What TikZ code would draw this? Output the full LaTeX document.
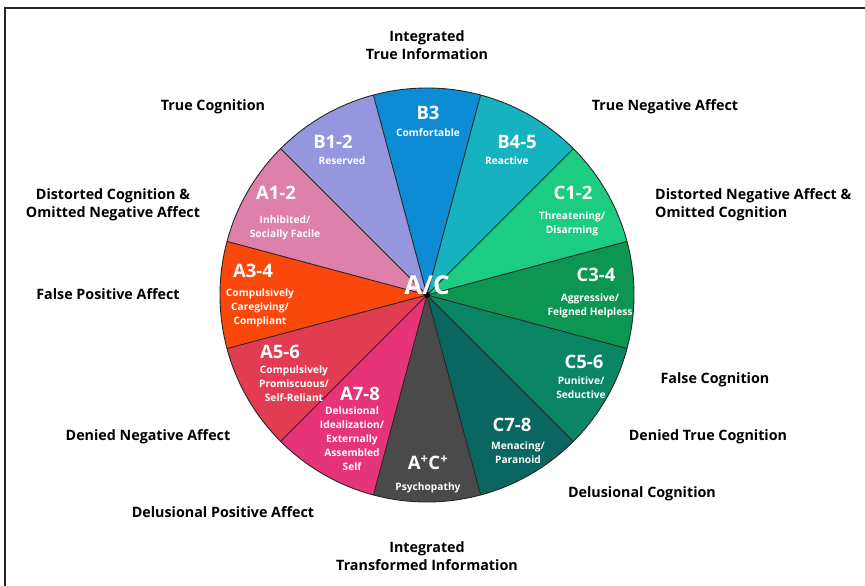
\documentclass[tikz,border=0pt]{standalone}
\usepackage{fontspec}
\setmainfont{Open Sans}
\definecolor{cB3}{RGB}{12,140,212}
\definecolor{cB45}{RGB}{22,178,192}
\definecolor{cC12}{RGB}{28,204,128}
\definecolor{cC34}{RGB}{12,150,82}
\definecolor{cC56}{RGB}{10,134,100}
\definecolor{cC78}{RGB}{10,102,96}
\definecolor{cAC}{RGB}{74,74,74}
\definecolor{cA78}{RGB}{230,52,120}
\definecolor{cA56}{RGB}{226,60,82}
\definecolor{cA34}{RGB}{250,72,12}
\definecolor{cA12}{RGB}{222,128,170}
\definecolor{cB12}{RGB}{150,150,222}
\tikzset{
  outer/.style={font=\fontsize{14.3}{18}\selectfont\bfseries, text=black, align=center, inner sep=0pt},
  segtitle/.style={font=\fontsize{18.5}{20}\selectfont\bfseries, text=white, inner sep=0pt},
  segsub/.style={font=\fontsize{10.2}{14}\selectfont\bfseries, text=white, align=center, inner sep=0pt},
  border/.style={draw=black!85, line width=0.9pt}
}
\begin{document}
\begin{tikzpicture}[x=1pt,y=1pt]
\useasboundingbox (0,0) rectangle (865,586);
\fill[white] (0,0) rectangle (865,586);
% frame
\draw[black!85, line width=1.4pt] (5,0) -- (5,578) -- (865,578);
% wheel
\coordinate (ctr) at (427,291);
\begin{scope}[shift={(ctr)}]
\foreach \a/\c in {75/cB3,45/cB45,15/cC12,-15/cC34,-45/cC56,-75/cC78,-105/cAC,-135/cA78,-165/cA56,165/cA34,135/cA12,105/cB12}{
  \fill[\c] (0,0) -- (\a:207) arc[start angle=\a, end angle=\a+30, radius=207] -- cycle;
}
\foreach \a in {15,45,...,345}{
  \draw[border] (0,0) -- (\a:207);
}
\draw[border] (0,0) circle[radius=207];
\fill[black] (0,0) circle[radius=3];
\end{scope}
% segment labels
\node[segtitle] (tB3) at (428,473) {B3};
\node[segsub] (sB3) at (428,453) {Comfortable};
\node[segtitle] (tB12) at (333,444) {B1-2};
\node[segsub] (sB12) at (342,425) {Reserved};
\node[segtitle] (tB45) at (517,444) {B4-5};
\node[segsub] (sB45) at (507,425) {Reactive};
\node[segtitle] (tA12) at (276,393) {A1-2};
\node[segsub] (sA12) at (285,358) {Inhibited/\\Socially Facile};
\node[segtitle] (tC12) at (573,393) {C1-2};
\node[segsub] (sC12) at (572,362) {Threatening/\\Disarming};
\node[segtitle] (tA34) at (253,315) {A3-4};
\node[segsub] (sA34) at (260,278) {Compulsively\\Caregiving/\\Compliant};
\node[segtitle] (tC34) at (596,311) {C3-4};
\node[segsub] (sC34) at (590,280) {Aggressive/\\Feigned Helpless};
\node[segtitle] (tA56) at (280,234) {A5-6};
\node[segsub] (sA56) at (294,202) {Compulsively\\Promiscuous/\\Self-Reliant};
\node[segtitle] (tC56) at (584,224) {C5-6};
\node[segsub] (sC56) at (581,198) {Punitive/\\Seductive};
\node[segtitle] (tA78) at (360,192) {A7-8};
\node[segsub] (sA78) at (352,147.5) {Delusional\\Idealization/\\Externally\\Assembled\\Self};
\node[segtitle] (tC78) at (512,161) {C7-8};
\node[segsub] (sC78) at (518,133) {Menacing/\\Paranoid};
\node[segtitle] (tACp) at (428,123) {A\textsuperscript{+}C\textsuperscript{+}};
\node[segsub] (sACp) at (428,98) {Psychopathy};
\node[font=\fontsize{26}{28}\selectfont\bfseries, text=white, inner sep=0pt] (tAC) at (427,301) {A/C};
% outer labels
\node[outer] (int1) at (427,541) {Integrated\\True Information};
\node[outer] (tcog) at (213,479) {True Cognition};
\node[outer] (tneg) at (665,479) {True Negative Affect};
\node[outer] (dcog) at (113,381) {Distorted Cognition \&\\Omitted Negative Affect};
\node[outer, align=left, anchor=west] (dneg) at (655,381) {Distorted Negative Affect \&\\Omitted Cognition};
\node[outer] (fpos) at (108,292) {False Positive Affect};
\node[outer] (fcog) at (715,206) {False Cognition};
\node[outer] (dnneg) at (148,149) {Denied Negative Affect};
\node[outer] (dtcog) at (708,149) {Denied True Cognition};
\node[outer] (dpos) at (223,74) {Delusional Positive Affect};
\node[outer] (dlcog) at (642,92) {Delusional Cognition};
\node[outer] (int2) at (427,30) {Integrated\\Transformed Information};
\end{tikzpicture}
\end{document}
